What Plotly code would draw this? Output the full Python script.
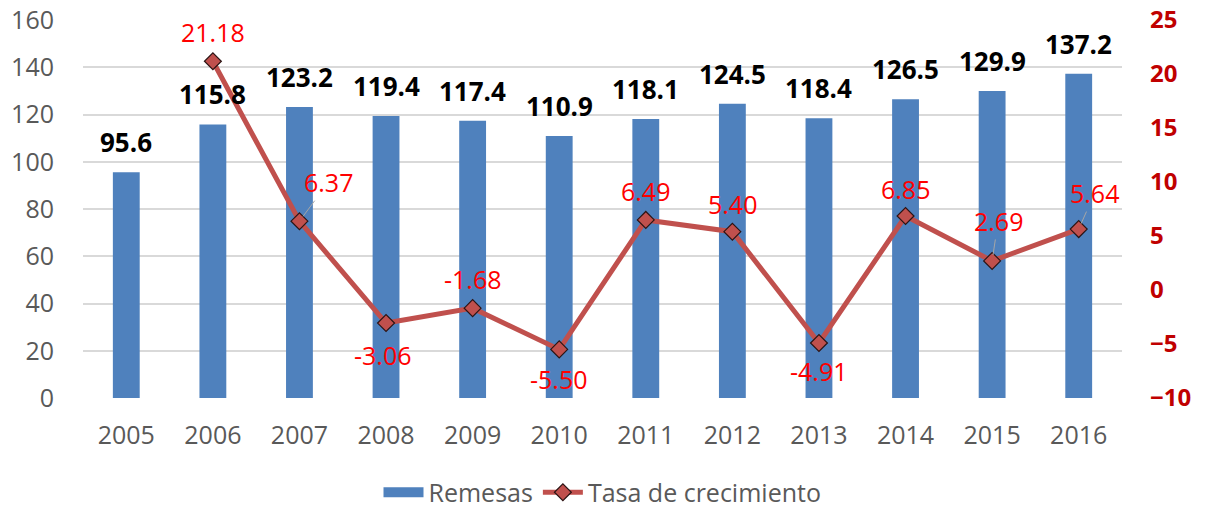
import plotly.graph_objects as go

years = ["2005", "2006", "2007", "2008", "2009", "2010", "2011", "2012", "2013", "2014", "2015", "2016"]
remesas = [95.6, 115.8, 123.2, 119.4, 117.4, 110.9, 118.1, 124.5, 118.4, 126.5, 129.9, 137.2]
tasa = [None, 21.18, 6.37, -3.06, -1.68, -5.50, 6.49, 5.40, -4.91, 6.85, 2.69, 5.64]

# label placement (screen pixel offsets from the marker; negative = up)
rate_offsets = {
    "2006": (0, -29, False), "2007": (29, -39, True), "2008": (-3, 32, False),
    "2009": (0, -29, False), "2010": (0, 30, False), "2011": (0, -29, False),
    "2012": (0, -28, False), "2013": (0, 28, False), "2014": (0, -27, False),
    "2015": (6, -40, True), "2016": (16, -36, True),
}

FONT = "Open Sans"
GRAY = "#595959"
BLUE = "#4F81BD"
RED = "#C0504D"

fig = go.Figure()
fig.add_trace(go.Bar(
    x=years, y=remesas, name="Remesas", marker_color=BLUE,
    marker_line_width=0, yaxis="y", showlegend=False,
))
# legend-only entry giving the wide blue swatch
fig.add_trace(go.Scatter(
    x=[None], y=[None], name="Remesas", mode="lines", yaxis="y",
    line=dict(color=BLUE, width=18), hoverinfo="skip",
))
fig.add_trace(go.Scatter(
    x=years, y=tasa, name="Tasa de crecimiento", yaxis="y2", mode="lines+markers",
    line=dict(color=RED, width=5),
    marker=dict(symbol="diamond", size=13, color=RED,
                line=dict(color="#2b1414", width=1.2)),
    connectgaps=False,
))

annotations = []
for i, (yr, v) in enumerate(zip(years, remesas)):
    annotations.append(dict(
        x=i, y=v, xref="x", yref="y", text=f"<b>{v:.1f}</b>", showarrow=False,
        yanchor="middle", yshift=30,
        font=dict(family=FONT, size=26, color="#000000"),
    ))
for i, (yr, v) in enumerate(zip(years, tasa)):
    if v is None:
        continue
    dx, dy, lead = rate_offsets[yr]
    if lead:
        annotations.append(dict(
            x=i, y=v, xref="x", yref="y2", text=f"{v:.2f}", showarrow=True,
            arrowhead=0, arrowwidth=1, arrowcolor="#A6A6A6", ax=dx, ay=dy,
            standoff=6, font=dict(family=FONT, size=25, color="#FF0000"),
        ))
    else:
        annotations.append(dict(
            x=i, y=v, xref="x", yref="y2", text=f"{v:.2f}", showarrow=False,
            xshift=dx, yshift=-dy, yanchor="middle",
            font=dict(family=FONT, size=25, color="#FF0000"),
        ))

fig.update_layout(
    width=1205, height=508,
    margin=dict(l=83, r=83, t=20, b=110, autoexpand=False),
    paper_bgcolor="white", plot_bgcolor="white",
    font=dict(family=FONT, size=25, color=GRAY),
    bargap=0.69,
    showlegend=True,
    legend=dict(orientation="h", x=0.5, xanchor="center", y=-0.25, yanchor="middle",
                font=dict(family=FONT, size=25, color=GRAY), itemwidth=40,
                traceorder="normal"),
    xaxis=dict(type="category", range=[-0.5, len(years) - 0.5], autorange=False,
               showgrid=False, showline=False, ticks="",
               tickfont=dict(family=FONT, size=25, color=GRAY), ticklabelstandoff=20),
    yaxis=dict(range=[0, 160], dtick=20, showgrid=True, gridcolor="#D9D9D9", gridwidth=1.5,
               zeroline=False, showline=False, ticks="",
               tickfont=dict(family=FONT, size=25, color=GRAY), ticklabelstandoff=28),
    yaxis2=dict(range=[-10, 25], dtick=5, overlaying="y", side="right", showgrid=False,
                zeroline=False, showline=False, ticks="",
                tickfont=dict(family=FONT, size=24, color="#C00000", weight="bold"),
                ticklabelstandoff=27),
    annotations=annotations,
)

# remove the browser's default 8px page margin so the figure fills the window
fig.write_html("out.html", config={"displayModeBar": False},
               post_script="document.body.style.margin='0';")
